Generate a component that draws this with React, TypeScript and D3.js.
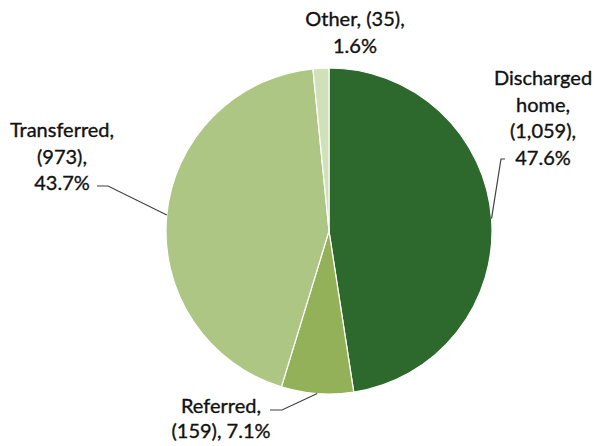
import React from "react";
import * as d3 from "d3";

// Patient disposition counts
const categories = ["Discharged home", "Referred", "Transferred", "Other"];
const counts = [1059, 159, 973, 35];
const percents = ["47.6%", "7.1%", "43.7%", "1.6%"];
const colors = ["#2d692d", "#93b158", "#adc684", "#d0e1b9"];

// Label text lines per slice
const labelLines = [
  ["Discharged", "home,", "(1,059),", "47.6%"],
  ["Referred,", "(159), 7.1%"],
  ["Transferred,", "(973),", "43.7%"],
  ["Other, (35),", "1.6%"],
];

const W = 600;
const H = 446;
const cx = 329;
const cy = 231;
const R = 163;

// Label anchors (center x, first baseline y, line step) and leader elbow points
const labelLayout = [
  { x: 543, y: 85, step: 26.5, elbow: [501, 159], tail: [505, 159] },
  { x: 221, y: 413, step: 24.5, elbow: [282, 410], tail: [270, 410] },
  { x: 62, y: 137, step: 26.5, elbow: [108, 186], tail: [97, 186] },
  { x: 355, y: 26, step: 26.5, elbow: null, tail: null },
];

export default function App() {
  const pie = d3
    .pie<number>()
    .sort(null)
    .value((d) => d)
    .startAngle(0)
    .endAngle(2 * Math.PI);
  const arcs = pie(counts);
  const arc = d3.arc<d3.PieArcDatum<number>>().innerRadius(0).outerRadius(R);
  const edge = d3.arc<d3.PieArcDatum<number>>().innerRadius(R).outerRadius(R);

  return (
    <svg
      width={W}
      height={H}
      style={{ position: "absolute", left: 0, top: 0, background: "#fff" }}
      fontFamily="Lato, 'Open Sans', sans-serif"
    >
      <g transform={`translate(${cx},${cy})`}>
        {arcs.map((a, i) => (
          <path
            key={categories[i]}
            d={arc(a) || ""}
            fill={colors[i]}
            stroke="#ffffff"
            strokeWidth={1.2}
          />
        ))}
      </g>
      {arcs.map((a, i) => {
        const L = labelLayout[i];
        if (!L.elbow || !L.tail) return null;
        const [ex, ey] = edge.centroid(a);
        const pts = [[cx + ex, cy + ey], L.elbow, L.tail];
        return (
          <polyline
            key={"leader-" + categories[i]}
            points={pts.map((p) => p.join(",")).join(" ")}
            fill="none"
            stroke="#404040"
            strokeWidth={1.2}
          />
        );
      })}
      {labelLines.map((lines, i) => {
        const L = labelLayout[i];
        return (
          <text
            key={"label-" + categories[i]}
            x={L.x}
            y={L.y}
            textAnchor="middle"
            fontSize={20}
            fill="#111"
            stroke="#111"
            strokeWidth={0.35}
          >
            {lines.map((t, j) => (
              <tspan key={j} x={L.x} dy={j === 0 ? 0 : L.step}>
                {t}
              </tspan>
            ))}
          </text>
        );
      })}
    </svg>
  );
}
